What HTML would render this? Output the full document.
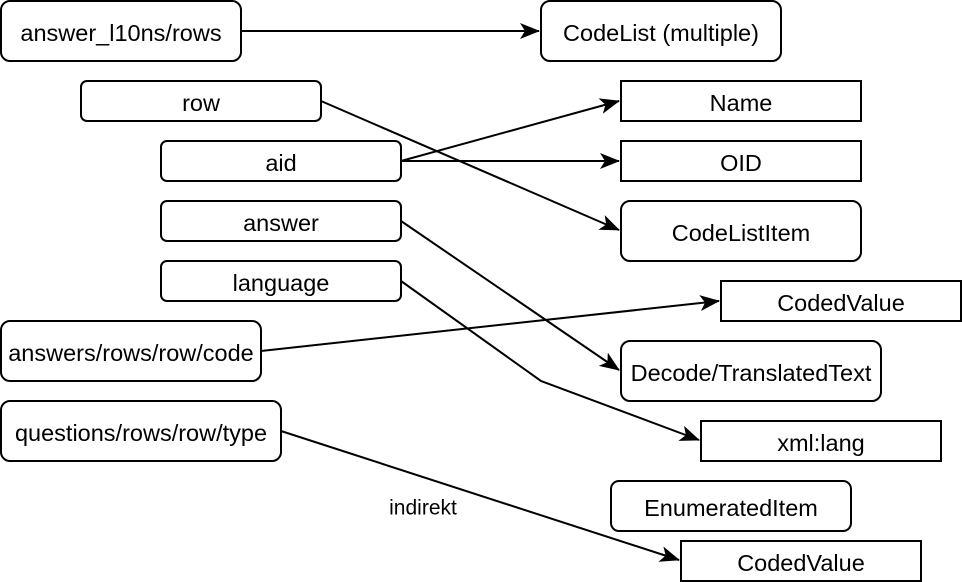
<!DOCTYPE html>
<html><head><meta charset="utf-8"><style>
html,body{margin:0;padding:0;background:#fff;}
svg{display:block;}
text{font-family:"Liberation Sans",Arial,sans-serif;font-size:23.5px;fill:#000;text-anchor:middle;dominant-baseline:central;}
.b{fill:#fff;stroke:#000;stroke-width:2;}
.e{fill:none;stroke:#000;stroke-width:2;}
</style></head><body>
<svg width="962" height="582" viewBox="0 0 962 582" xmlns="http://www.w3.org/2000/svg">
<defs>
<marker id="m" viewBox="0 0 20 20" refX="19" refY="10" markerWidth="20" markerHeight="20" markerUnits="userSpaceOnUse" orient="auto"><path d="M0,2 L20,10 L0,18 L5,10 Z" fill="#000"/></marker></defs>

<!-- edges -->
<path class="e" d="M241,31 L539,31" marker-end="url(#m)"/>
<path class="e" d="M321,101 L619,230" marker-end="url(#m)"/>
<path class="e" d="M401,161 L619,101" marker-end="url(#m)"/>
<path class="e" d="M401,161 L619,161" marker-end="url(#m)"/>
<path class="e" d="M401,221 L619,370" marker-end="url(#m)"/>
<path class="e" d="M401,281 L541,381 L699,440" marker-end="url(#m)"/>
<path class="e" d="M261,351 L719,301" marker-end="url(#m)"/>
<path class="e" d="M281,431 L679,560" marker-end="url(#m)"/>
<text x="423" y="508" style="font-size:21px">indirekt</text>

<!-- nodes -->
<g transform="translate(0,0)">
<rect class="b" x="1" y="1" width="240" height="60" rx="9"/><text x="121" y="33">answer_l10ns/rows</text>
<rect class="b" x="541" y="1" width="240" height="60" rx="9"/><text x="661" y="33">CodeList (multiple)</text>
<rect class="b" x="81" y="81" width="240" height="40" rx="6"/><text x="201" y="103">row</text>
<rect class="b" x="621" y="81" width="240" height="40"/><text x="741" y="103">Name</text>
<rect class="b" x="161" y="141" width="240" height="40" rx="6"/><text x="281" y="163">aid</text>
<rect class="b" x="621" y="141" width="240" height="40"/><text x="741" y="163">OID</text>
<rect class="b" x="161" y="201" width="240" height="40" rx="6"/><text x="281" y="223">answer</text>
<rect class="b" x="621" y="201" width="240" height="60" rx="9"/><text x="741" y="233">CodeListItem</text>
<rect class="b" x="161" y="261" width="240" height="40" rx="6"/><text x="281" y="283">language</text>
<rect class="b" x="721" y="281" width="240" height="40"/><text x="841" y="303">CodedValue</text>
<rect class="b" x="1" y="321" width="260" height="60" rx="9"/><text x="131" y="353">answers/rows/row/code</text>
<rect class="b" x="621" y="341" width="260" height="60" rx="9"/><text x="751" y="373">Decode/TranslatedText</text>
<rect class="b" x="1" y="401" width="280" height="60" rx="9"/><text x="141" y="433">questions/rows/row/type</text>
<rect class="b" x="701" y="421" width="240" height="40"/><text x="821" y="443">xml:lang</text>
<rect class="b" x="611" y="481" width="240" height="50" rx="8"/><text x="731" y="508">EnumeratedItem</text>
<rect class="b" x="681" y="541" width="240" height="40"/><text x="801" y="563">CodedValue</text>
</g>
</svg>
</body></html>
